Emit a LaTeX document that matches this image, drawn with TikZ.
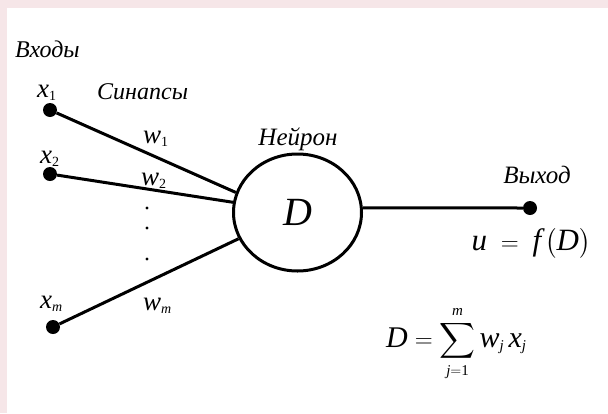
\documentclass[tikz,border=0pt]{standalone}
\usepackage{amsmath}
\usepackage{fontspec}
\setmainfont{Liberation Serif}
\usepackage{tikz}
\usetikzlibrary{shapes.geometric}

\definecolor{framepink}{RGB}{246,230,232}
\DeclareMathSizes{27}{27}{14}{11}
\DeclareMathSizes{31}{31}{17}{13}
\DeclareMathSizes{30}{30}{15}{12}
\DeclareMathSizes{40}{40}{24}{16}
\newcommand{\vari}[1]{\textit{#1}}
\newcommand{\numr}[1]{\textrm{#1}}

\begin{document}
\begin{tikzpicture}[x=1pt, y=-1pt,
  wire/.style={line width=3pt},
  dot/.style={circle, fill=black, inner sep=0pt, minimum size=14pt},
  lbl/.style={font=\fontsize{24}{28}\selectfont\itshape, inner sep=0pt},
  var/.style={font=\fontsize{27}{31}\selectfont, inner sep=0pt, anchor=base west},
  neuron/.style={ellipse, draw, line width=3pt, minimum width=128pt,
                 minimum height=117pt, inner sep=0pt, font=\fontsize{40}{44}\selectfont}
]
\useasboundingbox (0,0) rectangle (608,413);
\fill[framepink] (0,0) rectangle (608,413);
\fill[white] (7,8) rectangle (608,413);

% inputs
\node[dot] (in1) at (50,110) {};
\node[dot] (in2) at (50,174) {};
\node[dot] (inm) at (53,327) {};
\node[var] (x1) at (37,97) {$\vari{x}_{\numr{1}}$};
\node[var] (x2) at (40,163) {$\vari{x}_{\numr{2}}$};
\node[var] (xm) at (40,308) {$\vari{x}_{\vari{m}}$};

% neuron and output
\node[neuron] (nrn) at (297.5,212.5) {\vari{D}};
\node[dot] (out) at (530,208) {};

\draw[wire] (in1) -- (nrn.162);
\draw[wire] (in2) -- (nrn.171);
\draw[wire] (inm) -- (nrn.204);
\draw[wire] (nrn.4) -- (out);

\node[var] (w1) at (143,143) {$\vari{w}_{\numr{1}}$};
\node[var] (w2) at (141,185) {$\vari{w}_{\numr{2}}$};
\node[var] (wm) at (143,310) {$\vari{w}_{\vari{m}}$};
\foreach \y in {208,228,259}
  \fill (147,\y) circle (1.6);

% labels
\node[lbl, anchor=base west] (inputs) at (15,57) {Входы};
\node[lbl, anchor=base west] (syn) at (97,99) {Синапсы};
\node[lbl, anchor=base, font=\fontsize{25}{29}\selectfont\itshape] (nlbl) at (298,145) {Нейрон};
\node[lbl, anchor=base, font=\fontsize{25}{29}\selectfont\itshape] (olbl) at (537,183) {Выход};
\node[var, anchor=base, font=\fontsize{31}{35}\selectfont] (ufd) at (531,250)
  {$\vari{u}\;=\;\vari{f}\left(\vari{D}\right)$};
\node[var, font=\fontsize{30}{34}\selectfont] (sumf) at (386,347)
  {$\vari{D}=\displaystyle\sum_{\vari{j}=\numr{1}}^{\vari{m}} \vari{w}_{\vari{j}}\,\vari{x}_{\vari{j}}$};
\end{tikzpicture}
\end{document}
